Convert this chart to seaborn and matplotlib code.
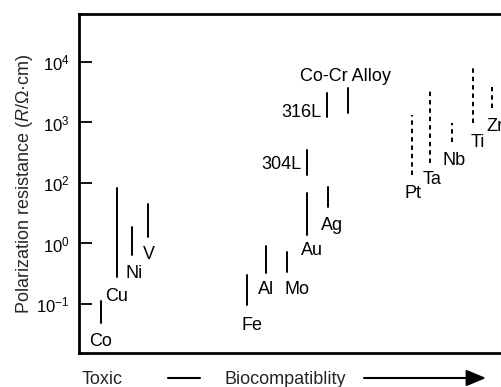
import matplotlib
matplotlib.use("Agg")
import matplotlib.pyplot as plt
from matplotlib.ticker import FixedLocator, FixedFormatter, NullLocator
from matplotlib.lines import Line2D
import seaborn as sns
import pandas as pd

# ---------------- data ----------------
metals = ["Co", "Cu", "Ni", "V", "Fe", "Al", "Mo", "Au", "Ag", "304L", "316L",
          "Co-Cr Alloy", "Pt", "Ta", "Nb", "Ti", "Zr"]
# position along the biocompatibility axis (0 = toxic ... 100)
biocompat_index = [5.3, 9.0, 12.6, 16.2, 39.7, 44.3, 49.2, 53.8, 58.8, 54.0, 58.6,
                   63.5, 78.7, 82.9, 88.1, 93.2, 97.6]
r_low = [0.49, 2.8, 6.5, 13, 0.96, 3.3, 3.4, 14, 40, 136, 1230,
         1440, 136, 214, 476, 980, 1740]
r_high = [1.12, 83, 19, 45, 3.0, 9.1, 7.2, 68, 86, 350, 3080,
          3720, 1330, 3720, 980, 8900, 3860]
kind = ["solid"] * 12 + ["dashed"] * 5
ytick_values = [1e4, 1e3, 1e2, 1e1, 1e0]
ytick_labels = [r"$10^{4}$", r"$10^{3}$", r"$10^{2}$", r"$10^{0}$", r"$10^{-1}$"]

# label layout: (ha, dx px, dy px below the low end; negative = above)
label_layout = {
    "Co": ("center", -1, 23.5), "Cu": ("center", -0.7, 24.5),
    "Ni": ("center", 2.3, 23.5), "V": ("center", 1, 22.5),
    "Fe": ("center", 5, 24.5), "Al": ("center", 0, 21.5),
    "Mo": ("center", 10.3, 22.5), "Au": ("center", 5, 20.5),
    "Ag": ("center", 4.7, 22.5), "304L": ("right", -5.6, -5.5),
    "316L": ("right", -5, -0.5), "Co-Cr Alloy": ("center", -2, -31.5),
    "Pt": ("center", 1.3, 23.5), "Ta": ("center", 2.4, 21.5),
    "Nb": ("center", 2.3, 23.5), "Ti": ("center", 4.7, 23.5),
    "Zr": ("left", -5.7, 23.5),
}

rows = []
for m, x, lo, hi, k in zip(metals, biocompat_index, r_low, r_high, kind):
    rows.append({"metal": m, "x": x, "R": lo, "kind": k})
    rows.append({"metal": m, "x": x, "R": hi, "kind": k})
df = pd.DataFrame(rows)

# ---------------- style ----------------
sns.set_style("white")
plt.rcParams["font.family"] = ["Liberation Sans", "DejaVu Sans"]
plt.rcParams["mathtext.fontset"] = "custom"
plt.rcParams["mathtext.rm"] = "Liberation Sans"
plt.rcParams["mathtext.it"] = "Liberation Sans:italic"
plt.rcParams["mathtext.bf"] = "Liberation Sans:bold"

DPI = 100
fig = plt.figure(figsize=(5.02, 3.87), dpi=DPI)
ax = fig.add_axes([79 / 502, 1 - 353 / 387, 1 - 79 / 502, (353 - 14) / 387])
ax.set_yscale("log")

sns.lineplot(data=df, x="x", y="R", units="metal", estimator=None, sort=False,
             style="kind", dashes={"solid": "", "dashed": (2.3, 2.0)},
             color="black", linewidth=1.4, legend=False, ax=ax)

ax.set_xlim(0, 100)
ax.set_ylim(10 ** -0.81, 10 ** 4.793)

ax.yaxis.set_major_locator(FixedLocator(ytick_values))
ax.yaxis.set_major_formatter(FixedFormatter(ytick_labels))
ax.yaxis.set_minor_locator(NullLocator())
ax.set_xticks([])
ax.tick_params(axis="y", direction="in", length=9.5, width=1.3, pad=7,
               labelsize=12, colors="black", left=True)
ax.set_xlabel("")
ax.set_ylabel(r"Polarization resistance ($R$/Ω·cm)", fontsize=13, labelpad=1)

for side in ["left", "top", "bottom"]:
    ax.spines[side].set_visible(True)
    ax.spines[side].set_linewidth(2.0)
    ax.spines[side].set_color("black")
ax.spines["right"].set_visible(False)

pt = 72 / DPI
for m, x, lo in zip(metals, biocompat_index, r_low):
    ha, dx, dy = label_layout[m]
    ax.annotate(m, xy=(x, lo), xytext=(dx * pt, -dy * pt), textcoords="offset points",
                ha=ha, va="baseline", fontsize=13, color="black", annotation_clip=False)

# bottom caption
fig.text(82 / 502, 1 - 383.5 / 387, "Toxic", ha="left", va="baseline", fontsize=13)
fig.add_artist(Line2D([168 / 502, 200 / 502], [1 - 378 / 387, 1 - 378 / 387],
                      transform=fig.transFigure, color="black", lw=1.5))
fig.text(225 / 502, 1 - 383.5 / 387, "Biocompatiblity", ha="left", va="baseline", fontsize=13)
fig.add_artist(matplotlib.patches.FancyArrowPatch(
    (364 / 502, 1 - 378 / 387), (486 / 502, 1 - 378 / 387), transform=fig.transFigure,
    arrowstyle="-|>,head_length=0.6,head_width=0.25", mutation_scale=20,
    color="black", lw=1.5, shrinkA=0, shrinkB=0))

fig.savefig("out.png", dpi=DPI)
